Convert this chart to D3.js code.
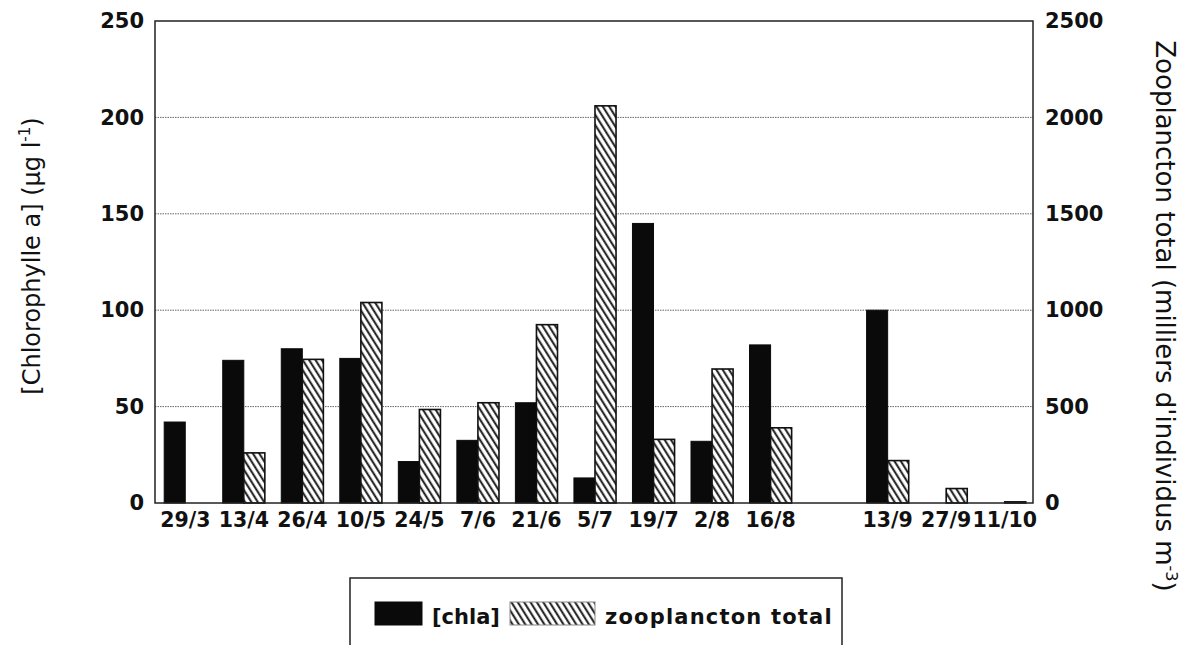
<!DOCTYPE html>
<html><head><meta charset="utf-8">
<script src="https://cdn.jsdelivr.net/npm/d3@7"></script>
<style>
body{margin:0;background:#fff;}
svg{display:block;}
text{font-family:"DejaVu Sans",sans-serif;fill:#111;}
</style></head>
<body>
<svg id="c" width="1195" height="645"></svg>
<script>
const dates = ["29/3","13/4","26/4","10/5","24/5","7/6","21/6","5/7","19/7","2/8","16/8","","13/9","27/9","11/10"];
const slots = dates.map((d,i)=>"s"+i);
const chla = [42,74,80,75,21.5,32.5,52,13,145,32,82,null,100,null,null];
const zoo  = [null,260,745,1040,485,520,925,2060,330,695,390,null,220,75,6];
const leftTicks = [0,50,100,150,200,250];
const rightTicks = [0,500,1000,1500,2000,2500];

const svg = d3.select("#c");
const L=155, R=1033, T=21, B=503;

const x0 = d3.scaleBand().domain(slots).range([L,R]).paddingInner(0).paddingOuter(0);
const x1 = d3.scaleBand().domain(["chla","zoo"]).range([0,x0.bandwidth()]).paddingInner(0).paddingOuter(0.39).align(0.56);
const yL = d3.scaleLinear().domain([0,250]).range([B,T]);
const yR = d3.scaleLinear().domain([0,2500]).range([B,T]);

const defs = svg.append("defs");
const pat = defs.append("pattern").attr("id","hatch").attr("patternUnits","userSpaceOnUse")
  .attr("width",5.4).attr("height",10).attr("patternTransform","rotate(-32)");
pat.append("rect").attr("width",5.4).attr("height",10).attr("fill","#fff");
pat.append("line").attr("x1",1.2).attr("x2",1.2).attr("y1",0).attr("y2",10).attr("stroke","#111").attr("stroke-width",1.9);

// gridlines
svg.append("g").selectAll("line").data(leftTicks.filter(t=>t>0&&t<250)).join("line")
  .attr("x1",L).attr("x2",R).attr("y1",d=>yL(d)).attr("y2",d=>yL(d))
  .attr("stroke","#666").attr("stroke-width",1).attr("stroke-dasharray","1.5,1");

// bars
const g = svg.append("g");
g.selectAll("rect.chla").data(chla.map((v,i)=>({v,i})).filter(d=>d.v!=null)).join("rect")
  .attr("class","chla")
  .attr("x",d=>x0(slots[d.i])+x1("chla")).attr("width",x1.bandwidth())
  .attr("y",d=>yL(d.v)).attr("height",d=>B-yL(d.v))
  .attr("fill","#0a0a0a").attr("stroke","#0a0a0a").attr("stroke-width",1);
g.selectAll("rect.zoo").data(zoo.map((v,i)=>({v,i})).filter(d=>d.v!=null)).join("rect")
  .attr("class","zoo")
  .attr("x",d=>x0(slots[d.i])+x1("zoo")).attr("width",x1.bandwidth())
  .attr("y",d=>yR(d.v)).attr("height",d=>B-yR(d.v))
  .attr("fill","url(#hatch)").attr("stroke","#111").attr("stroke-width",1.6);

// frame
svg.append("rect").attr("x",L).attr("y",T).attr("width",R-L).attr("height",B-T)
  .attr("fill","none").attr("stroke","#222").attr("stroke-width",1.5);

const tickFont = g=>g.selectAll("text").style("font-family","'DejaVu Sans',sans-serif")
  .style("font-size","21px").style("font-weight","bold").attr("fill","#161616");

// axes
const axL = svg.append("g").attr("transform",`translate(${L},0)`)
  .call(d3.axisLeft(yL).tickValues(leftTicks).tickSize(0).tickPadding(11).tickFormat(d3.format("d")));
axL.select(".domain").remove(); axL.call(tickFont);

const axR = svg.append("g").attr("transform",`translate(${R},0)`)
  .call(d3.axisRight(yR).tickValues(rightTicks).tickSize(0).tickPadding(12).tickFormat(d3.format("d")));
axR.select(".domain").remove(); axR.call(tickFont);

const axB = svg.append("g").attr("transform",`translate(0,${B})`)
  .call(d3.axisBottom(x0).tickFormat((d,i)=>dates[i]).tickSize(0).tickPadding(9));
axB.select(".domain").remove(); axB.call(tickFont);
axB.selectAll("text").style("font-size","20.5px").attr("dx","1");

// axis titles
const lt = svg.append("text").attr("transform","translate(40,256) rotate(-90)")
  .attr("text-anchor","middle").style("font-size","24px");
lt.append("tspan").text("[Chlorophylle a] (µg l");
lt.append("tspan").text("-1").style("font-size","15px").attr("dy","-10");
lt.append("tspan").text(")").attr("dy","10");

const rt = svg.append("text").attr("transform","translate(1156,316) rotate(90)")
  .attr("text-anchor","middle").style("font-size","26px");
rt.append("tspan").text("Zooplancton total (milliers d'individus m");
rt.append("tspan").text("-3").style("font-size","16px").attr("dy","-10");
rt.append("tspan").text(")").attr("dy","10");

// legend
const lg = svg.append("g");
lg.append("rect").attr("x",350).attr("y",578).attr("width",492).attr("height",90)
  .attr("fill","#fff").attr("stroke","#222").attr("stroke-width",1.5);
const legItems = [{k:"chla",label:"[chla]",x:375,w:47,tx:432},{k:"zoo",label:"zooplancton total",x:510,w:85,tx:605}];
lg.selectAll("rect.sw").data(legItems).join("rect").attr("class","sw")
  .attr("x",d=>d.x).attr("y",602).attr("width",d=>d.w).attr("height",23)
  .attr("fill",d=>d.k==="chla"?"#0a0a0a":"url(#hatch)")
  .attr("stroke",d=>d.k==="chla"?"#0a0a0a":"#888").attr("stroke-width",1);
lg.selectAll("text").data(legItems).join("text")
  .attr("x",d=>d.tx).attr("y",624).text(d=>d.label)
  .style("font-size","21px").style("font-weight","bold").attr("fill","#161616")
  .style("letter-spacing",d=>d.k==="zoo"?"1.2px":"0px");
</script>
</body></html>
